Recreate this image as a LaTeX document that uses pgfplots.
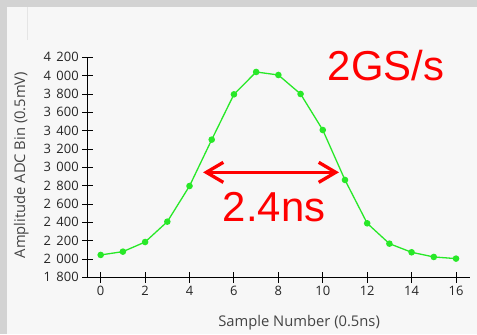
\documentclass[border=0pt]{standalone}
\usepackage{pgfplots}
\pgfplotsset{compat=1.18}
\usepackage{fontspec}
\setmainfont{Open Sans}
\newfontfamily\arialf{Liberation Sans}
\usetikzlibrary{arrows.meta}
\definecolor{bggray}{HTML}{D3D3D3}
\definecolor{panel}{HTML}{F7F7F7}
\definecolor{sig}{RGB}{40,232,40}
\definecolor{ann}{RGB}{255,0,0}
\definecolor{ticktext}{HTML}{262626}
\definecolor{labtext}{HTML}{444444}
\begin{document}
\begin{tikzpicture}[x=1bp,y=1bp]
\useasboundingbox (0,0) rectangle (477,334);
\fill[bggray] (0,0) rectangle (477,334);
\fill[panel] (7,0) rectangle (477,327);
\draw[black!10, line width=0.6bp] (27,327) -- (27,294);
\begin{axis}[
  at={(87.7bp,56.7bp)}, anchor=south west,
  scale only axis, width=382.3bp, height=220bp,
  xmin=-0.585, xmax=16.63, ymin=1800, ymax=4200,
  axis lines=left,
  axis line style={black, line width=0.9bp, -},
  xtick={0,2,...,16}, ytick={1800,2000,...,4200},
  scaled y ticks=false,
  tick align=center, major tick length=11bp,
  tick style={black, line width=0.9bp},
  clip=false,
  /pgf/number format/.cd, 1000 sep={\hspace{0.42em}}, assume math mode=true,
  /pgfplots/.cd,
  tick label style={font=\fontsize{13}{15}\selectfont, text=ticktext},
  xlabel={Sample Number (0.5ns)},
  ylabel={Amplitude ADC Bin (0.5mV)},
  label style={font=\fontsize{14.8}{17}\selectfont, text=labtext},
  xlabel style={at={(axis description cs:0.553,-0.2214)}, anchor=base},
  ylabel style={at={(axis description cs:-0.164,0.51)}, anchor=base, rotate=0},
]
\addplot[sig, line width=1.3bp, mark=*, mark size=2.6bp, mark options={fill=sig, draw=sig, solid}] coordinates {
(0,2044) (1,2080) (2,2185) (3,2407) (4,2796) (5,3302) (6,3796) (7,4040) (8,4007)
(9,3800) (10,3407) (11,2862) (12,2389) (13,2167) (14,2073) (15,2022) (16,2004)
};
\draw[ann, line width=3.3bp, {Straight Barb[length=17bp,width=20bp]}-{Straight Barb[length=17bp,width=20bp]}]
  (axis cs:4.61,2945) -- (axis cs:10.73,2945);
\node[ann, font=\arialf\fontsize{42}{46}\selectfont, anchor=base, inner sep=0pt] at (axis cs:12.85,3952) {2GS/s};
\node[ann, font=\arialf\fontsize{42}{46}\selectfont, anchor=base, inner sep=0pt] at (axis cs:7.81,2414) {2.4ns};
\end{axis}
\end{tikzpicture}
\end{document}
